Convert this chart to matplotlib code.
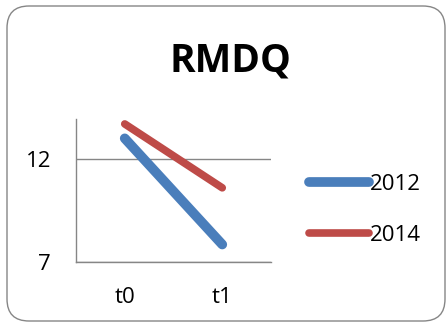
import matplotlib.pyplot as plt
from matplotlib.patches import FancyBboxPatch

plt.rcParams['font.family'] = ['Open Sans', 'DejaVu Sans']

# ── data ─────────────────────────────────────────────────────────────────────
categories = ["t0", "t1"]
series_names = ["2012", "2014"]
values_2012 = [13.0, 7.85]
values_2014 = [13.7, 10.6]
y_ticks = [7, 12]

BLUE = "#4A7EBB"
RED = "#BE4B48"
GRAY = "#868686"

fig = plt.figure(figsize=(4.46, 3.27), dpi=100)

# rounded outer frame (inches), kept behind the axes
frame = FancyBboxPatch((0.07, 0.06), 4.38, 3.15,
                       boxstyle="round,pad=0,rounding_size=0.22",
                       transform=fig.dpi_scale_trans,
                       facecolor="white", edgecolor=GRAY, linewidth=1.0,
                       zorder=-10)
fig.add_artist(frame)

ax = fig.add_axes([76 / 446, 1 - 262 / 327, 195 / 446, 143 / 327])
ax.set_facecolor("none")
ax.set_zorder(1)

x = range(len(categories))
ax.plot(x, values_2012, color=BLUE, lw=7, solid_capstyle="round", label=series_names[0])
ax.plot(x, values_2014, color=RED, lw=5.5, solid_capstyle="round", label=series_names[1])

ax.set_xlim(-0.5, 1.5)
ax.set_ylim(7, 13.94)
ax.set_xticks(list(x))
ax.set_xticklabels(categories)
ax.set_yticks(y_ticks)
ax.tick_params(length=0, labelsize=16, pad=18)
ax.tick_params(axis="y", pad=18)

ax.grid(axis="y", color=GRAY, lw=1.0)
ax.set_axisbelow(True)
for side in ["top", "right"]:
    ax.spines[side].set_visible(False)
for side in ["left", "bottom"]:
    ax.spines[side].set_color(GRAY)
    ax.spines[side].set_linewidth(1.0)

fig.text(230 / 446, 1 - 71 / 327, "RMDQ", fontsize=28, fontweight="bold",
         ha="center", va="baseline")

fig.legend(loc="center left", bbox_to_anchor=(300 / 446, 1 - 210 / 327),
           frameon=False, fontsize=16, handlelength=2.7, handletextpad=0.05,
           labelspacing=1.35, borderaxespad=0)

fig.savefig("out.png", dpi=100)
